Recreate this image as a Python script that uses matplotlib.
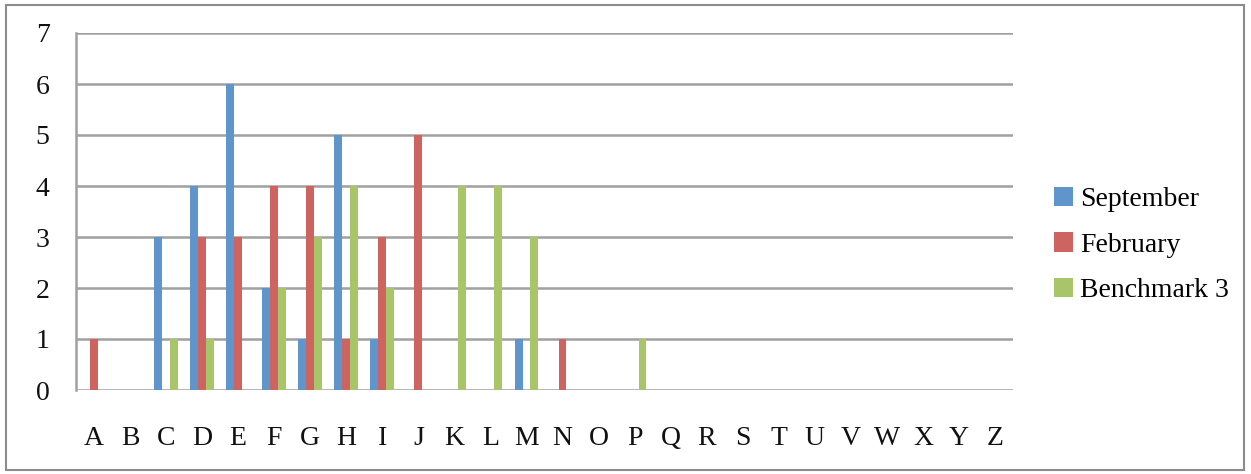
import matplotlib
matplotlib.use("Agg")
import matplotlib.pyplot as plt
import numpy as np
from matplotlib.patches import Rectangle

categories = list("ABCDEFGHIJKLMNOPQRSTUVWXYZ")
september = [0, 0, 3, 4, 6, 2, 1, 5, 1, 0, 0, 0, 1, 0, 0, 0, 0, 0, 0, 0, 0, 0, 0, 0, 0, 0]
february = [1, 0, 0, 3, 3, 4, 4, 1, 3, 5, 0, 0, 0, 1, 0, 0, 0, 0, 0, 0, 0, 0, 0, 0, 0, 0]
benchmark3 = [0, 0, 1, 1, 0, 2, 3, 4, 2, 0, 4, 4, 3, 0, 0, 1, 0, 0, 0, 0, 0, 0, 0, 0, 0, 0]
series_names = ["September", "February", "Benchmark 3"]
colors = ["#5F95CA", "#CD6460", "#A9C56A"]

plt.rcParams["font.family"] = ["Liberation Serif", "DejaVu Serif"]

W, H = 1251, 474
fig = plt.figure(figsize=(W / 100, H / 100), dpi=100)

# outer chart border
fig.patches.append(Rectangle((6 / W, 4 / H), 1238 / W, 465 / H, transform=fig.transFigure,
                             fill=False, edgecolor="#8c8c8c", linewidth=1.5))

left, right, top, bottom = 76, 1013, 33, 390
ax = fig.add_axes([left / W, 1 - bottom / H, (right - left) / W, (bottom - top) / H])

x = np.arange(len(categories))
bw = 0.22
for i, (vals, name, c) in enumerate(zip([september, february, benchmark3], series_names, colors)):
    ax.bar(x + (i - 1) * bw, vals, width=bw, color=c, label=name, zorder=3)

ax.set_xlim(-0.5, len(categories) - 0.5)
ax.set_ylim(0, 7)
ax.set_yticks(range(0, 8))
ax.set_xticks(x)
ax.set_xticklabels(categories)
ax.yaxis.grid(True, color="#a0a0a0", linewidth=1.8, zorder=0)
for s in ["top", "right", "bottom"]:
    ax.spines[s].set_visible(False)
ax.spines["left"].set_color("#a0a0a0")
ax.spines["left"].set_linewidth(1.8)
ax.tick_params(axis="both", length=0, labelsize=20, colors="#111111")
ax.tick_params(axis="y", pad=19)
ax.tick_params(axis="x", pad=26)

ax.legend(loc="center left", bbox_to_anchor=(1054 / W, 1 - 245 / H), bbox_transform=fig.transFigure,
          frameon=False, fontsize=20, handlelength=0.7, handleheight=0.7, handletextpad=0.25,
          labelspacing=0.72, borderaxespad=0, borderpad=0)

fig.savefig("out.png", dpi=100)
